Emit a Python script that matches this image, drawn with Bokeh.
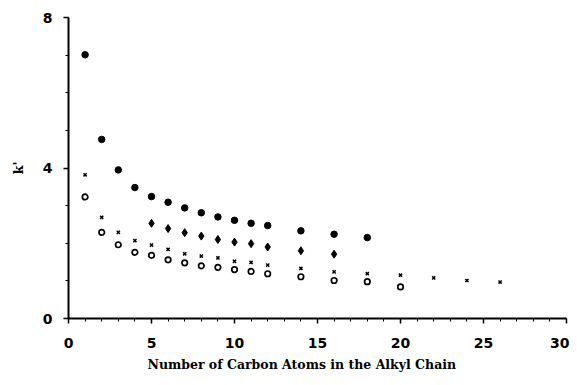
from bokeh.plotting import figure
from bokeh.models import Range1d, FixedTicker, Title
from bokeh.embed import file_html
from bokeh.resources import INLINE

# Series
filled_x = [1, 2, 3, 4, 5, 6, 7, 8, 9, 10, 11, 12, 14, 16, 18]
filled_y = [7.01, 4.76, 3.95, 3.48, 3.24, 3.09, 2.94, 2.81, 2.70, 2.61, 2.53, 2.47, 2.33, 2.24, 2.15]

diamond_x = [5, 6, 7, 8, 9, 10, 11, 12, 14, 16]
diamond_y = [2.53, 2.39, 2.28, 2.19, 2.10, 2.03, 1.99, 1.90, 1.80, 1.71]

cross_x = [1, 2, 3, 4, 5, 6, 7, 8, 9, 10, 11, 12, 14, 16, 18, 20, 22, 24, 26]
cross_y = [3.82, 2.69, 2.29, 2.07, 1.95, 1.84, 1.72, 1.66, 1.61, 1.52, 1.49, 1.42,
           1.33, 1.24, 1.19, 1.15, 1.08, 1.01, 0.97]

open_x = [1, 2, 3, 4, 5, 6, 7, 8, 9, 10, 11, 12, 14, 16, 18, 20]
open_y = [3.23, 2.29, 1.96, 1.76, 1.68, 1.56, 1.48, 1.40, 1.36, 1.30, 1.25, 1.19,
          1.11, 1.01, 0.98, 0.84]

x_ticks = [0, 5, 10, 15, 20, 25, 30]
x_minor = list(range(0, 31))
y_ticks = [0, 4, 8]
y_minor = list(range(0, 9))
x_label = "Number of Carbon Atoms in the Alkyl Chain"
y_label = "k'"

p = figure(width=569, height=377, output_backend="svg", toolbar_location=None,
           x_range=Range1d(0, 30), y_range=Range1d(0, 8),
           min_border_left=68, min_border_right=3, min_border_top=17, min_border_bottom=59)
p.outline_line_color = None
p.grid.visible = False
p.background_fill_color = "white"

p.scatter(filled_x, filled_y, marker="circle", size=6.5, color="black")
p.scatter(diamond_x, diamond_y, marker="diamond", size=8, color="black")
p.scatter(cross_x, cross_y, marker="x", size=4.5, line_color="black", line_width=1.5)
p.scatter(open_x, open_y, marker="circle", size=5.5, fill_color="white",
          line_color="black", line_width=1.7)

for ax in (p.xaxis[0], p.yaxis[0]):
    ax.axis_line_color = "black"
    ax.axis_line_width = 2
    ax.major_tick_line_color = "black"
    ax.minor_tick_line_color = "black"
    ax.major_tick_line_width = 1.5
    ax.minor_tick_line_width = 1
    ax.major_tick_out = 5
    ax.major_tick_in = 0
    ax.minor_tick_out = 3
    ax.minor_tick_in = 0
    ax.major_label_text_font = "DejaVu Sans"
    ax.major_label_text_font_style = "bold"
    ax.major_label_text_font_size = "14px"
    ax.major_label_text_color = "black"
    ax.axis_label_text_color = "black"
    ax.axis_label_text_font_style = "bold"

p.xaxis[0].ticker = FixedTicker(ticks=x_ticks, minor_ticks=x_minor)
p.yaxis[0].ticker = FixedTicker(ticks=y_ticks, minor_ticks=y_minor)

p.xaxis[0].major_label_standoff = 14

# x-axis title, set slightly left of the frame centre as in the original
p.add_layout(Title(text=x_label, align="left", offset=79,
                   text_font="DejaVu Serif", text_font_style="bold",
                   text_font_size="12.5px", text_color="black", standoff=8), "below")

p.yaxis[0].major_label_standoff = 11
p.yaxis[0].axis_label = y_label
p.yaxis[0].axis_label_text_font = "DejaVu Serif"
p.yaxis[0].axis_label_text_font_size = "13px"
p.yaxis[0].axis_label_standoff = 14

open("out.html", "w").write(file_html(p, INLINE))
